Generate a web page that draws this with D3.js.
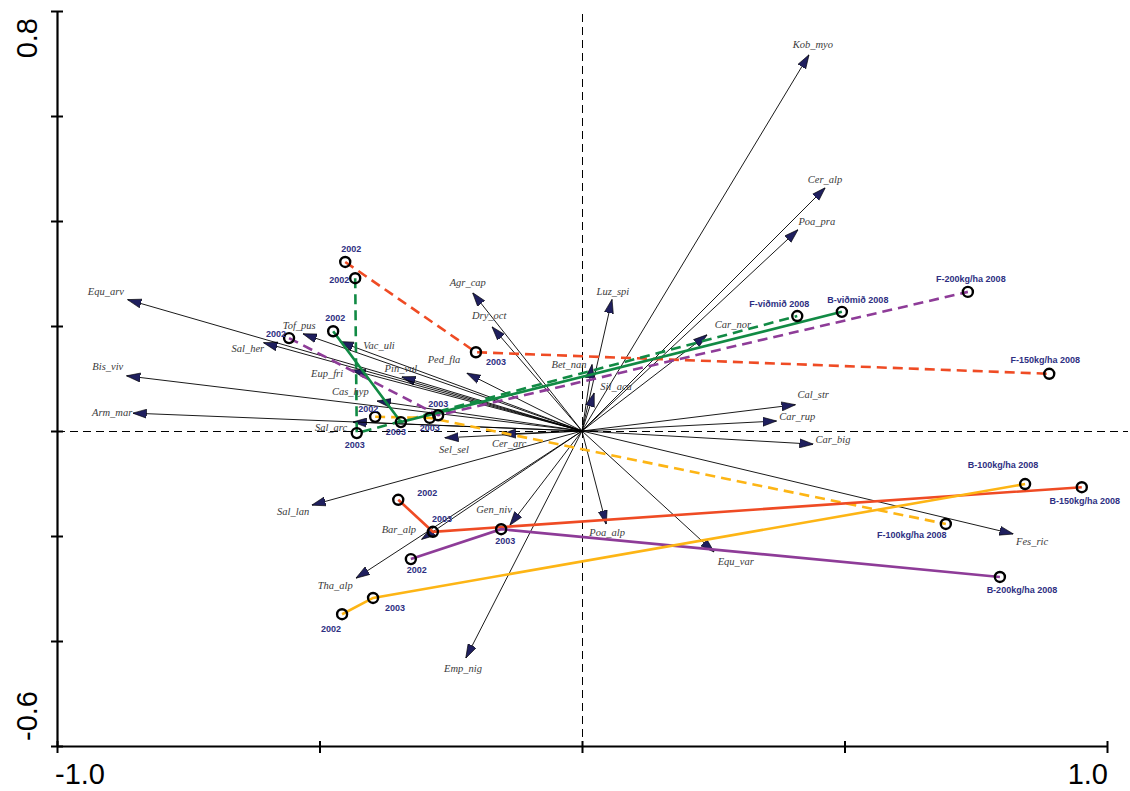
<!DOCTYPE html>
<html>
<head>
<meta charset="utf-8">
<script src="https://cdn.jsdelivr.net/npm/d3@7"></script>
<style>
  html, body { margin: 0; padding: 0; background: #fff; }
  svg { display: block; }
</style>
</head>
<body>
<div id="chart"></div>
<script>
// species vectors (axis 1, axis 2)
var species = ['Kob_myo', 'Cer_alp', 'Poa_pra', 'Luz_spi', 'Agr_cap', 'Dry_oct', 'Ped_fla', 'Bet_nan',
  'Sil_aca', 'Car_nor', 'Cal_str', 'Car_rup', 'Car_big', 'Fes_ric', 'Equ_var', 'Poa_alp', 'Gen_niv',
  'Emp_nig', 'Bar_alp', 'Tha_alp', 'Sal_lan', 'Sel_sel', 'Cer_arc', 'Sal_arc', 'Arm_mar', 'Cas_hyp',
  'Bis_viv', 'Eup_fri', 'Pin_vul', 'Vac_uli', 'Sal_her', 'Tof_pus', 'Equ_arv'];
var speciesX = [0.432, 0.463, 0.411, 0.057, -0.208, -0.171, -0.219, 0.019,
  0.023, 0.238, 0.406, 0.370, 0.440, 0.821, 0.251, 0.046, -0.137,
  -0.221, -0.305, -0.430, -0.514, -0.261, -0.152, -0.436, -0.855, -0.390,
  -0.867, -0.438, -0.343, -0.461, -0.606, -0.531, -0.865];
var speciesY = [0.716, 0.463, 0.383, 0.250, 0.263, 0.198, 0.110, 0.126,
  0.072, 0.183, 0.050, 0.019, -0.025, -0.196, -0.230, -0.177, -0.179,
  -0.432, -0.206, -0.280, -0.141, -0.013, -0.006, 0.017, 0.034, 0.057,
  0.105, 0.116, 0.103, 0.170, 0.168, 0.185, 0.250];

// treatment trajectories, 2002 -> 2003 -> 2008
var treatments = ['F-150kg/ha', 'F-viðmið', 'F-200kg/ha', 'F-100kg/ha', 'B-viðmið', 'B-150kg/ha', 'B-200kg/ha', 'B-100kg/ha'];
var years = ['2002', '2003', '2008'];
var siteX = [
  [-0.451, -0.202, 0.890],
  [-0.432, -0.429, 0.410],
  [-0.558, -0.274, 0.735],
  [-0.394, -0.290, 0.693],
  [-0.474, -0.345, 0.495],
  [-0.350, -0.284, 0.952],
  [-0.326, -0.154, 0.796],
  [-0.457, -0.398, 0.844]
];
var siteY = [
  [0.322, 0.150, 0.109],
  [0.291, -0.004, 0.219],
  [0.177, 0.030, 0.265],
  [0.027, 0.025, -0.177],
  [0.190, 0.017, 0.227],
  [-0.131, -0.192, -0.107],
  [-0.244, -0.187, -0.278],
  [-0.349, -0.318, -0.101]
];

var xTicks = [-1.0, -0.5, 0, 0.5, 1.0];
var yTicks = [-0.6, -0.4, -0.2, 0, 0.2, 0.4, 0.6, 0.8];

// label placement, pixels from the point
var speciesNudge = {
  Kob_myo: [4, -7], Cer_alp: [0, -5], Poa_pra: [19, -5], Luz_spi: [1, -5], Agr_cap: [-5, -7],
  Dry_oct: [-3, -8], Ped_fla: [-23, -10], Bet_nan: [-23, 3], Sil_aca: [22, -3], Car_nor: [26, -7],
  Cal_str: [18, -7], Car_rup: [21, -1], Car_big: [20, -1], Fes_ric: [19, 11], Equ_var: [22, 13],
  Poa_alp: [1, 12], Gen_niv: [-16, -12], Emp_nig: [-3, 14], Bar_alp: [-23, -6], Tha_alp: [-21, 11],
  Sal_lan: [-19, 10], Sel_sel: [9, 15], Cer_arc: [7, 13], Sal_arc: [-22, 9], Arm_mar: [-21, 3],
  Cas_hyp: [-27, -6], Bis_viv: [-19, -6], Eup_fri: [-25, 7], Pin_vul: [-1, -5], Vac_uli: [39, 7],
  Sal_her: [-16, 9], Tof_pus: [-4, -5], Equ_arv: [-22, -5]
};
var siteNudge = [
  [[6, -10], [20, 13], [-4, -11]],
  [[-16, 5], [-2, 15], [-18, -9]],
  [[-13, -1], [0, -8], [3, -10]],
  [[-7, -5], [0, 13], [-34, 14]],
  [[2, -10], [-5, 13], [16, -9]],
  [[29, -4], [9, -10], [3, 17]],
  [[6, 14], [4, 15], [22, 16]],
  [[-11, 18], [22, 13], [-22, -16]]
];
var lineColor = ['#ef4b24', '#118a44', '#8e3c98', '#fdb515', '#118a44', '#ef4b24', '#8e3c98', '#fdb515'];

var width = 1130, height = 791;
var x = d3.scaleLinear().domain([-1, 1]).range([57, 1107]);
var y = d3.scaleLinear().domain([-0.6, 0.8]).range([746, 11]);

// plain hyphen for negatives, like the original
var fmt = function(v) { return d3.format('.1f')(v).replace('\u2212', '-'); };

var svg = d3.select('#chart').append('svg')
  .attr('width', width)
  .attr('height', height);

var defs = svg.append('defs');
defs.append('marker')
  .attr('id', 'head')
  .attr('viewBox', '0 -5 14 10')
  .attr('refX', 13.5)
  .attr('refY', 0)
  .attr('markerWidth', 14)
  .attr('markerHeight', 10)
  .attr('markerUnits', 'userSpaceOnUse')
  .attr('orient', 'auto')
  .append('path')
  .attr('d', 'M0,-4.5L14,0L0,4.5Z')
  .attr('fill', '#1f1f5e')
  .attr('stroke', '#000')
  .attr('stroke-width', 0.6);

// zero lines
svg.append('line')
  .attr('x1', x(0) + 0.5).attr('x2', x(0) + 0.5)
  .attr('y1', 14).attr('y2', y(-0.6))
  .attr('stroke', '#000').attr('stroke-width', 1)
  .attr('stroke-dasharray', '8,5');
svg.append('line')
  .attr('x1', x(-1)).attr('x2', 1128)
  .attr('y1', y(0) + 0.5).attr('y2', y(0) + 0.5)
  .attr('stroke', '#000').attr('stroke-width', 1)
  .attr('stroke-dasharray', '8,5');

// axes
var yAxis = svg.append('g')
  .attr('transform', 'translate(' + x(-1) + ',0)')
  .call(d3.axisLeft(y).tickValues(yTicks).tickFormat('').tickSizeOuter(0).tickSizeInner(6));
yAxis.selectAll('.tick line').attr('x1', 6).attr('x2', -6).attr('stroke-width', 2);
yAxis.select('.domain').attr('stroke-width', 2.2);

var xAxis = svg.append('g')
  .attr('transform', 'translate(0,' + y(-0.6) + ')')
  .call(d3.axisBottom(x).tickValues(xTicks).tickFormat('').tickSizeOuter(0).tickSizeInner(6));
xAxis.selectAll('.tick line').attr('y1', -5).attr('y2', 7).attr('stroke-width', 2);
xAxis.select('.domain').attr('stroke-width', 2.2);

var axisFont = 'Liberation Sans, Arial, sans-serif';
svg.append('text')
  .attr('x', x(-1) - 2).attr('y', 784)
  .attr('font-family', axisFont).attr('font-size', 29)
  .text(fmt(xTicks[0]));
svg.append('text')
  .attr('x', x(1) + 1).attr('y', 784)
  .attr('text-anchor', 'end')
  .attr('font-family', axisFont).attr('font-size', 29)
  .text(fmt(xTicks[xTicks.length - 1]));
svg.append('text')
  .attr('transform', 'translate(37,' + (y(0.8) + 7) + ') rotate(-90)')
  .attr('text-anchor', 'end')
  .attr('font-family', axisFont).attr('font-size', 29)
  .text(fmt(yTicks[yTicks.length - 1]));
svg.append('text')
  .attr('transform', 'translate(37,' + (y(-0.6) - 5) + ') rotate(-90)')
  .attr('text-anchor', 'start')
  .attr('font-family', axisFont).attr('font-size', 29)
  .text(fmt(yTicks[0]));

// species arrows
var arrows = svg.append('g');
species.forEach(function(name, i) {
  arrows.append('line')
    .attr('x1', x(0)).attr('y1', y(0))
    .attr('x2', x(speciesX[i])).attr('y2', y(speciesY[i]))
    .attr('stroke', '#000')
    .attr('stroke-width', 0.9)
    .attr('marker-end', 'url(#head)');
});

// trajectories
var line = d3.line().x(function(d) { return x(d[0]); }).y(function(d) { return y(d[1]); });
var tracks = svg.append('g');
treatments.forEach(function(t, i) {
  var pts = siteX[i].map(function(v, j) { return [v, siteY[i][j]]; });
  tracks.append('path')
    .attr('d', line(pts))
    .attr('fill', 'none')
    .attr('stroke', lineColor[i])
    .attr('stroke-width', 2.6)
    .attr('stroke-dasharray', t.charAt(0) === 'F' ? '10,6' : null);
});

// site circles
var dots = svg.append('g');
treatments.forEach(function(t, i) {
  siteX[i].forEach(function(v, j) {
    dots.append('circle')
      .attr('cx', x(v)).attr('cy', y(siteY[i][j]))
      .attr('r', 5)
      .attr('fill', 'none')
      .attr('stroke', '#000')
      .attr('stroke-width', 2.4);
  });
});

// species labels
var labels = svg.append('g')
  .attr('font-family', 'Liberation Serif, Times New Roman, serif')
  .attr('font-style', 'italic')
  .attr('font-size', 10.5)
  .attr('fill', '#3a3a3a')
  .attr('text-anchor', 'middle');
species.forEach(function(name, i) {
  var n = speciesNudge[name];
  labels.append('text')
    .attr('x', x(speciesX[i]) + n[0])
    .attr('y', y(speciesY[i]) + n[1])
    .text(name);
});

// site labels
var siteLabels = svg.append('g')
  .attr('font-family', 'Liberation Sans, Arial, sans-serif')
  .attr('font-weight', 'bold')
  .attr('font-size', 9)
  .attr('fill', '#2e2f82')
  .attr('text-anchor', 'middle');
treatments.forEach(function(t, i) {
  siteX[i].forEach(function(v, j) {
    var n = siteNudge[i][j];
    siteLabels.append('text')
      .attr('x', x(v) + n[0])
      .attr('y', y(siteY[i][j]) + n[1])
      .text(j === 2 ? t + ' ' + years[j] : years[j]);
  });
});
</script>
</body>
</html>
